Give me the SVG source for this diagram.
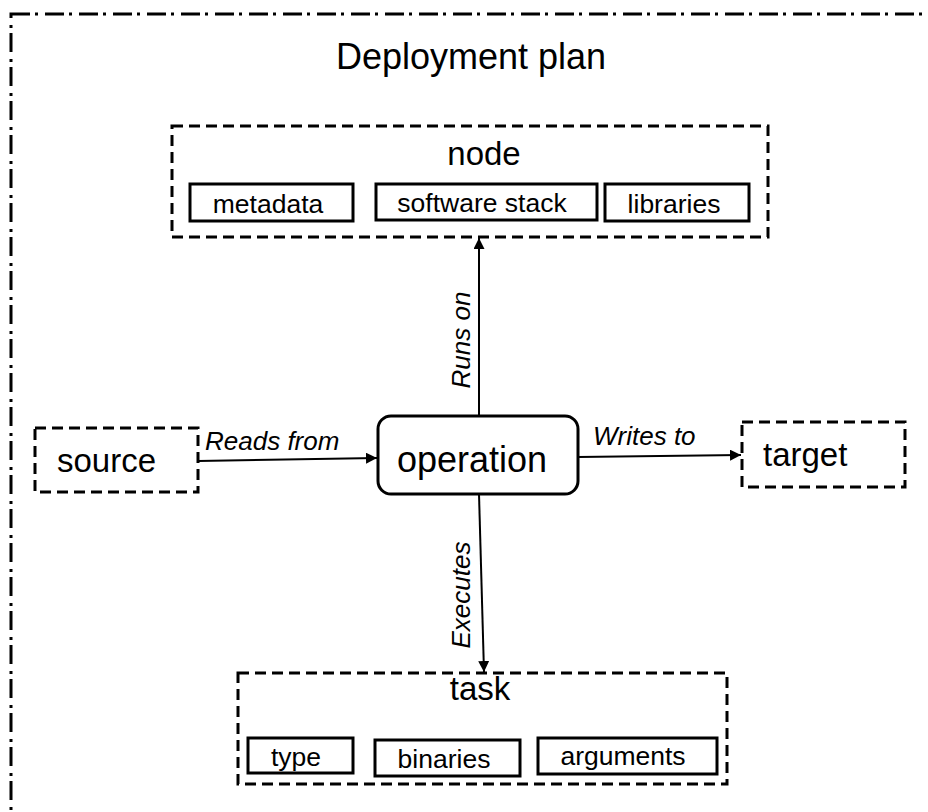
<svg xmlns="http://www.w3.org/2000/svg" width="928" height="812" viewBox="0 0 928 812">
  <defs>
    <marker id="arrow" viewBox="0 0 10 10" refX="10" refY="5" markerWidth="11" markerHeight="11" markerUnits="userSpaceOnUse" orient="auto">
      <path d="M0,0 L10,5 L0,10 z" fill="#000"/>
    </marker>
    <style>
      text { font-family: "Liberation Sans", Arial, sans-serif; fill: #000; }
      .frame { fill: none; stroke: #000; stroke-width: 3; stroke-dasharray: 19 5 3 7; }
      .dash { fill: #fff; stroke: #000; stroke-width: 3; stroke-dasharray: 11 6; }
      .solid { fill: #fff; stroke: #000; stroke-width: 3; }
      .edge { fill: none; stroke: #000; stroke-width: 2; marker-end: url(#arrow); }
      .title { font-size: 36px; text-anchor: middle; }
      .big { font-size: 33px; }
      .mid { font-size: 26.5px; text-anchor: middle; }
      .lbl { font-size: 26px; font-style: italic; }
    </style>
  </defs>
  <rect width="928" height="812" fill="#fff"/>

  <!-- outer plan frame -->
  <g id="plan">
    <rect class="frame" x="11" y="14" width="940" height="830"/>
    <text class="title" x="471" y="69">Deployment plan</text>
  </g>

  <!-- connectors -->
  <g id="connectors">
    <line class="edge" x1="198" y1="461" x2="377" y2="458"/>
    <text class="lbl" x="205" y="450">Reads from</text>
    <line class="edge" x1="578" y1="457" x2="741" y2="455"/>
    <text class="lbl" x="593" y="445">Writes to</text>
    <line class="edge" x1="479" y1="416" x2="479" y2="238"/>
    <text class="lbl" transform="translate(470 340) rotate(-90)" text-anchor="middle">Runs on</text>
    <line class="edge" x1="479" y1="494" x2="484" y2="672"/>
    <text class="lbl" transform="translate(470 595) rotate(-90)" text-anchor="middle">Executes</text>
  </g>

  <g id="node">
    <rect class="dash" x="172" y="126" width="596" height="111"/>
    <text class="big" x="484" y="165" text-anchor="middle">node</text>
    <g id="metadata">
      <rect class="solid" x="190" y="184" width="163" height="37"/>
      <text class="mid" x="268" y="213">metadata</text>
    </g>
    <g id="software-stack">
      <rect class="solid" x="376" y="184" width="221" height="36"/>
      <text class="mid" x="482" y="212">software stack</text>
    </g>
    <g id="libraries">
      <rect class="solid" x="605" y="184" width="144" height="37"/>
      <text class="mid" x="674" y="213">libraries</text>
    </g>
  </g>

  <g id="source">
    <rect class="dash" x="35" y="428" width="163" height="64"/>
    <text class="big" x="57" y="472">source</text>
  </g>

  <g id="operation">
    <rect class="solid" x="378" y="416" width="200" height="78" rx="13"/>
    <text x="472" y="472" font-size="36" text-anchor="middle">operation</text>
  </g>

  <g id="target">
    <rect class="dash" x="742" y="422" width="163" height="65"/>
    <text class="big" x="763" y="466">target</text>
  </g>

  <g id="task">
    <rect class="dash" x="238" y="673" width="489" height="111"/>
    <text class="big" x="480" y="700" text-anchor="middle">task</text>
    <g id="type">
      <rect class="solid" x="248" y="738" width="105" height="35"/>
      <text class="mid" x="296" y="766">type</text>
    </g>
    <g id="binaries">
      <rect class="solid" x="375" y="740" width="145" height="36"/>
      <text class="mid" x="444" y="768">binaries</text>
    </g>
    <g id="arguments">
      <rect class="solid" x="538" y="738" width="179" height="36"/>
      <text class="mid" x="623" y="765">arguments</text>
    </g>
  </g>
</svg>
